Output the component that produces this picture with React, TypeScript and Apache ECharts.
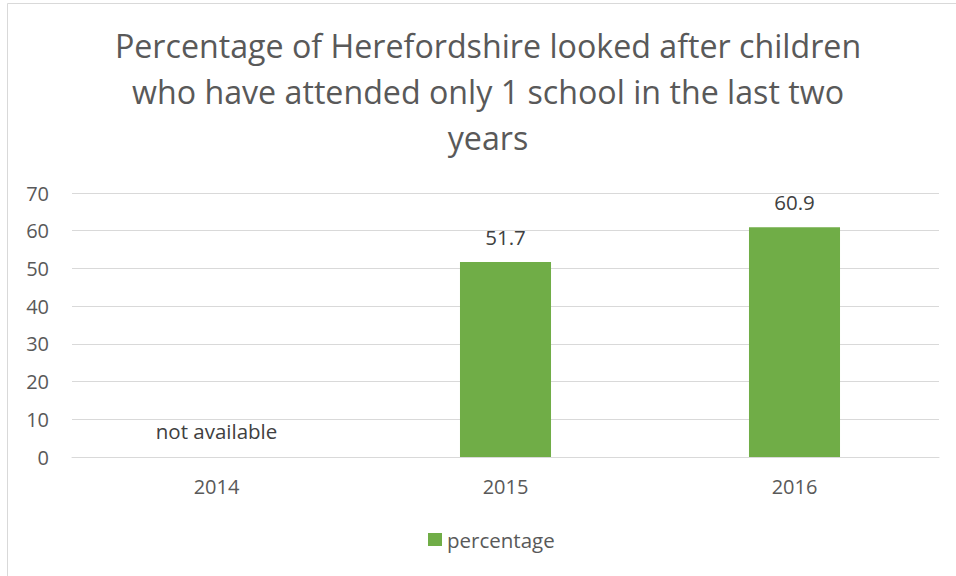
import React, { useEffect, useRef } from "react";
import * as echarts from "echarts";

const titleLines = [
  "Percentage of Herefordshire looked after children",
  "who have attended only 1 school in the last two",
  "years",
];
const categories = ["2014", "2015", "2016"];
const values: (number | null)[] = [null, 51.7, 60.9];
const seriesName = "percentage";
const missingText = "not available";
const yMin = 0;
const yMax = 70;
const yInterval = 10;

const FONT = "'Open Sans', sans-serif";

export default function App() {
  const ref = useRef<HTMLDivElement>(null);
  useEffect(() => {
    if (!ref.current) return;
    const chart = echarts.init(ref.current, null, { renderer: "svg" });
    const data = values.map((v) =>
      v === null
        ? {
            value: 0,
            label: {
              show: true,
              position: "top",
              distance: 16,
              formatter: missingText,
            },
          }
        : { value: v }
    );
    chart.setOption({
      animation: false,
      backgroundColor: "#ffffff",
      textStyle: { fontFamily: FONT },
      title: {
        text: titleLines.join("\n"),
        left: 483,
        top: 17,
        textAlign: "center",
        textStyle: {
          fontFamily: FONT,
          fontSize: 32.2,
          lineHeight: 46,
          fontWeight: "normal",
          color: "#595959",
        },
      },
      graphic: [
        {
          type: "rect",
          shape: { x: 7.5, y: 3.5, width: 1000, height: 700 },
          style: { fill: "none", stroke: "#d9d9d9", lineWidth: 1 },
          silent: true,
          z: -1,
        },
      ],
      legend: {
        data: [seriesName],
        left: 423,
        top: 524,
        itemWidth: 14,
        itemHeight: 13,
        itemGap: 6,
        icon: "rect",
        textStyle: { fontFamily: FONT, fontSize: 20.5, color: "#595959" },
      },
      grid: { left: 72, right: 17, top: 193, bottom: 119, containLabel: false },
      xAxis: {
        type: "category",
        data: categories,
        axisLine: { show: true, lineStyle: { color: "#d9d9d9", width: 1 } },
        axisTick: { show: false },
        axisLabel: {
          color: "#595959",
          fontFamily: FONT,
          fontSize: 20,
          margin: 19,
        },
      },
      yAxis: {
        type: "value",
        min: yMin,
        max: yMax,
        interval: yInterval,
        axisLine: { show: false },
        axisTick: { show: false },
        splitLine: { lineStyle: { color: "#d9d9d9", width: 1 } },
        axisLabel: {
          color: "#595959",
          fontFamily: FONT,
          fontSize: 20,
          margin: 23,
        },
      },
      series: [
        {
          name: seriesName,
          type: "bar",
          data,
          barWidth: "31.5%",
          itemStyle: { color: "#70ad47" },
          label: {
            show: true,
            position: "top",
            distance: 15,
            color: "#404040",
            fontFamily: FONT,
            fontSize: 20.5,
          },
        },
      ],
    });
    return () => chart.dispose();
  }, []);
  return (
    <div
      ref={ref}
      style={{ position: "fixed", left: 0, top: 0, width: 956, height: 576 }}
    />
  );
}
